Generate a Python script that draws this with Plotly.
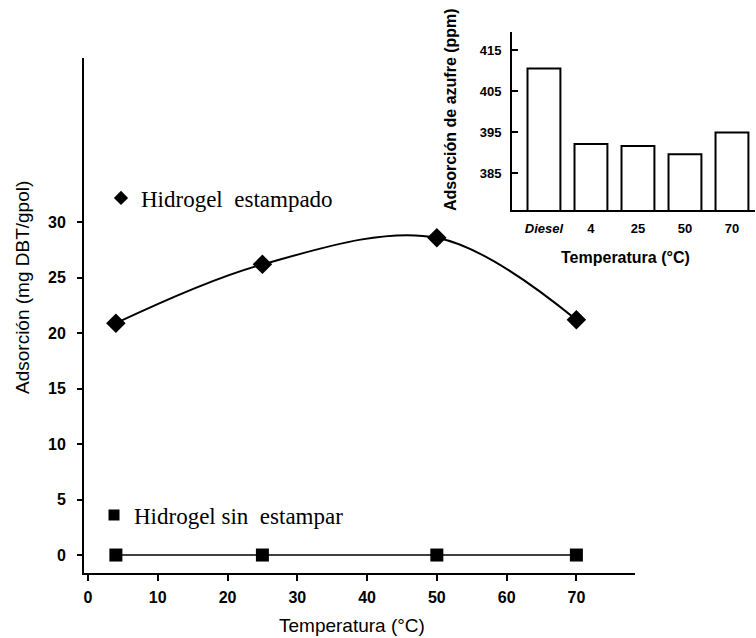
import plotly.graph_objects as go

# ---- main chart data ----
temps = [4, 25, 50, 70]
ads_estampado = [20.9, 26.2, 28.6, 21.2]
ads_sin_estampar = [0.0, 0.0, 0.0, 0.0]
main_yticks = [0, 5, 10, 15, 20, 25, 30]
main_xticks = [0, 10, 20, 30, 40, 50, 60, 70]

# ---- inset data ----
inset_categories = ["<i>Diesel</i>", "4", "25", "50", "70"]
inset_values = [410.5, 392.1, 391.6, 389.6, 394.9]
inset_yticks = [385, 395, 405, 415]

SANS = "Liberation Sans, Arial, sans-serif"
SERIF = "Liberation Serif, Times New Roman, serif"

fig = go.Figure()

# curve + markers (main)
fig.add_trace(go.Scatter(
    x=temps, y=ads_estampado, mode="lines+markers",
    line=dict(color="black", width=2, shape="spline", smoothing=1.0),
    marker=dict(symbol="diamond", size=15, color="black"),
    showlegend=False, xaxis="x", yaxis="y"))
fig.add_trace(go.Scatter(
    x=temps, y=ads_sin_estampar, mode="lines+markers",
    line=dict(color="black", width=1.5),
    marker=dict(symbol="square", size=13, color="black"),
    showlegend=False, xaxis="x", yaxis="y"))

# legend-only entries
fig.add_trace(go.Scatter(
    x=[None], y=[None], mode="markers", name="Hidrogel  estampado",
    marker=dict(symbol="diamond", size=11, color="black"),
    legend="legend", xaxis="x", yaxis="y"))
fig.add_trace(go.Scatter(
    x=[None], y=[None], mode="markers", name="Hidrogel sin  estampar",
    marker=dict(symbol="square", size=11, color="black"),
    legend="legend2", xaxis="x", yaxis="y"))

# inset bars
fig.add_trace(go.Bar(
    x=inset_categories, y=inset_values,
    marker=dict(color="white", line=dict(color="black", width=2)),
    width=0.7, showlegend=False, xaxis="x2", yaxis="y2"))

legend_common = dict(
    bgcolor="rgba(0,0,0,0)", borderwidth=0,
    font=dict(family=SERIF, size=23, color="black"),
    xanchor="left", yanchor="middle", itemsizing="trace")

ann_common = dict(xref="paper", yref="paper", showarrow=False,
                  xanchor="center", yanchor="middle")

fig.update_layout(
    width=756, height=638,
    margin=dict(l=0, r=0, t=0, b=0),
    paper_bgcolor="white", plot_bgcolor="white",
    font=dict(family=SANS, color="black"),
    xaxis=dict(
        domain=[84/756, 635/756], range=[-0.57, 78.4],
        tickvals=main_xticks, ticks="outside", ticklen=6, tickwidth=1.5,
        tickcolor="black", showline=True, linecolor="black", linewidth=2,
        showgrid=False, zeroline=False, ticklabelstandoff=3,
        tickfont=dict(family=SANS, size=16, weight="bold"), anchor="y"),
    yaxis=dict(
        domain=[1-573/638, 1-58/638], range=[-1.62, 44.8],
        tickvals=main_yticks, ticks="outside", ticklen=5, tickwidth=1.5,
        tickcolor="black", showline=True, linecolor="black", linewidth=2,
        showgrid=False, zeroline=False, ticklabelstandoff=8,
        tickfont=dict(family=SANS, size=16, weight="bold"), anchor="x"),
    xaxis2=dict(
        domain=[512/756, 755/756], range=[-0.68, 4.49],
        ticks="", showline=True, linecolor="black", linewidth=2,
        showgrid=False, zeroline=False, ticklabelstandoff=5,
        tickfont=dict(family=SANS, size=13, weight="bold"), anchor="y2"),
    yaxis2=dict(
        domain=[1-210/638, 1-32/638], range=[376.0, 419.4],
        tickvals=inset_yticks, ticks="inside", ticklen=6, tickwidth=1.5,
        tickcolor="black", showline=True, linecolor="black", linewidth=2,
        showgrid=False, zeroline=False, ticklabelstandoff=6,
        tickfont=dict(family=SANS, size=13, weight="bold"), anchor="x2"),
    legend=dict(x=101/756, y=1-198/638, **legend_common),
    legend2=dict(x=94/756, y=1-515/638, **legend_common),
    annotations=[
        dict(text="Adsorción (mg DBT/gpol)", x=22/756, y=1-288/638,
             textangle=-90, font=dict(family=SANS, size=19, color="black"),
             **ann_common),
        dict(text="Temperatura (°C)", x=352/756, y=1-625/638,
             font=dict(family=SANS, size=19, color="black"), **ann_common),
        dict(text="Adsorción de azufre (ppm)", x=450/756, y=1-110/638,
             textangle=-90,
             font=dict(family=SANS, size=16, color="black", weight="bold"),
             **ann_common),
        dict(text="Temperatura (°C)", x=625/756, y=1-257/638,
             font=dict(family=SANS, size=16, color="black", weight="bold"),
             **ann_common),
    ],
)

fig.write_html("out.html",
               config={"displayModeBar": False},
               post_script="document.body.style.margin='0px';")
